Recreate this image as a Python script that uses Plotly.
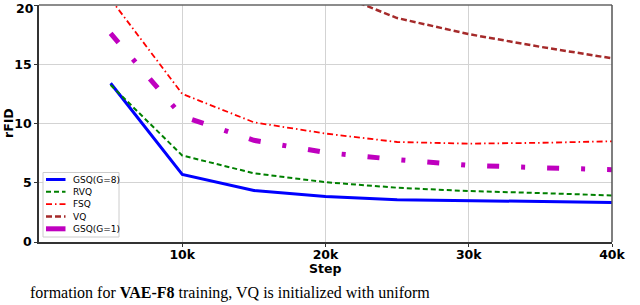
import plotly.graph_objects as go

steps = [5000, 10000, 15000, 20000, 25000, 30000, 35000, 40000]
gsq_g8 = [13.4, 5.7, 4.35, 3.85, 3.57, 3.48, 3.38, 3.34]
rvq = [13.25, 7.3, 5.8, 5.05, 4.58, 4.3, 4.13, 3.93]
fsq = [20.5, 12.5, 10.1, 9.15, 8.44, 8.3, 8.37, 8.5]
vq_steps = [20000, 25000, 30000, 35000, 40000]
vq = [21.3, 18.9, 17.54, 16.47, 15.5]
gsq_g1 = [17.6, 10.6, 8.58, 7.55, 6.95, 6.47, 6.27, 6.1]

x_ticks = [10000, 20000, 30000, 40000]
x_tick_labels = ["10k", "20k", "30k", "40k"]
y_ticks = [0, 5, 10, 15, 20]
y_tick_labels = ["0", "5", "10", "15", "20"]

series = [
    ("GSQ(G=8)", steps, gsq_g8, dict(color="#0000ff", width=3)),
    ("RVQ", steps, rvq, dict(color="#008000", width=2, dash="5px,3px")),
    ("FSQ", steps, fsq, dict(color="#ff0000", width=1.8, dash="6px,3px,1.5px,3px")),
    ("VQ", vq_steps, vq, dict(color="#a52a2a", width=2.5, dash="6px,3px")),
    ("GSQ(G=1)", steps, gsq_g1, dict(color="#bf00bf", width=5, dash="12px,22px,4px,22px")),
]

W, H = 640, 305
L, R, T, B = 39, 28, 5, 63
PW, PH = W - L - R, H - T - B

def px(x):
    return (x - L) / PW

def py(y):
    return (H - B - y) / PH

fig = go.Figure()
for name, xs, ys, ln in series:
    fig.add_trace(go.Scatter(x=xs, y=ys, mode="lines", name=name, line=ln, showlegend=False))

tick_font = dict(family="DejaVu Sans", size=12.5, color="black", weight="bold")

# the top tick label is drawn as an annotation kept inside the page
shown_y_labels = y_tick_labels[:-1] + [""]

fig.update_layout(
    width=W, height=H,
    margin=dict(l=L, r=R, t=T, b=B),
    paper_bgcolor="white", plot_bgcolor="white",
    showlegend=False,
    xaxis=dict(range=[0, 40000], tickvals=x_ticks, ticktext=x_tick_labels,
               showgrid=True, gridcolor="#d3d3d3", gridwidth=1,
               showline=True, linecolor="#333333", linewidth=1.5,
               ticks="outside", ticklen=3, tickcolor="#333333",
               tickfont=tick_font, zeroline=False, automargin=False,
               ticklabeloverflow="allow", ticklabelstandoff=-3),
    yaxis=dict(range=[0, 20], tickvals=y_ticks, ticktext=shown_y_labels,
               showgrid=True, gridcolor="#d3d3d3", gridwidth=1,
               showline=True, linecolor="#333333", linewidth=1.5,
               ticks="outside", ticklen=3, tickcolor="#333333",
               tickfont=tick_font, zeroline=False, automargin=False,
               ticklabeloverflow="allow"),
)
fig.add_annotation(text=y_tick_labels[-1], xref="paper", yref="paper",
                   x=px(34.5), y=py(0), xanchor="right", yanchor="top",
                   showarrow=False, font=tick_font, borderpad=0)

# axis titles
fig.add_annotation(text="Step", xref="paper", yref="paper", x=px(325), y=py(268),
                   showarrow=False, font=tick_font, xanchor="center", yanchor="middle")
fig.add_annotation(text="rFID", xref="paper", yref="paper", x=px(8), y=py(123),
                   showarrow=False, font=tick_font, textangle=-90,
                   xanchor="center", yanchor="middle")

# top and right spines
fig.add_shape(type="line", xref="paper", yref="paper", x0=0, x1=1, y0=1, y1=1,
              line=dict(color="#666666", width=1.5))
fig.add_shape(type="line", xref="paper", yref="paper", x0=1, x1=1, y0=0, y1=1,
              line=dict(color="#555555", width=1.5))

# legend (drawn manually to match compact matplotlib spacing)
fig.add_shape(type="rect", xref="paper", yref="paper",
              x0=px(43), x1=px(119), y0=py(237), y1=py(172.5),
              line=dict(color="#cccccc", width=1), fillcolor="rgba(255,255,255,0.9)", layer="above")
row_y = [179.5, 191.8, 204.1, 216.5, 228.8]
legend_dash = ["solid", "5px,3px", "6px,3px,1.5px,3px", "6px,3px", "solid"]
for (name, xs, ys, ln), ry, dsh in zip(series, row_y, legend_dash):
    fig.add_shape(type="line", xref="paper", yref="paper",
                  x0=px(46), x1=px(65.5), y0=py(ry), y1=py(ry), layer="above",
                  line=dict(color=ln["color"], width=ln["width"], dash=dsh))
    fig.add_annotation(text=name, xref="paper", yref="paper", x=px(71), y=py(ry),
                       xanchor="left", yanchor="middle", showarrow=False,
                       font=dict(family="DejaVu Sans", size=9, color="black"))

# caption fragment below the chart
fig.add_annotation(text="formation for <b>VAE-F8</b> training, VQ is initialized with uniform",
                   xref="paper", yref="paper", x=px(28), y=py(304), xanchor="left", yanchor="bottom",
                   showarrow=False, font=dict(family="Liberation Serif", size=16, color="black"))

fig.write_html("out.html", config={"displayModeBar": False},
               post_script="document.body.style.margin='0';document.body.style.padding='0';")
